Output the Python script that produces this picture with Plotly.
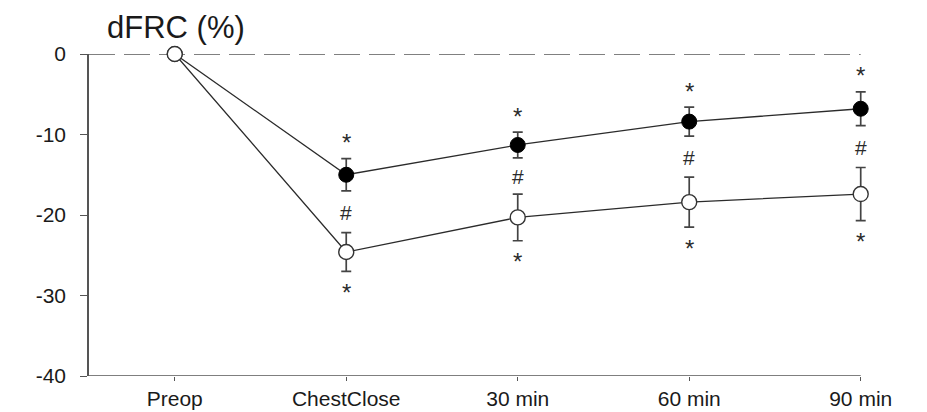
import plotly.graph_objects as go

# Time points and group means with SD-style error bars (dFRC, %)
categories = ["Preop", "ChestClose", "30 min", "60 min", "90 min"]
filled_mean = [0, -15.0, -11.3, -8.4, -6.8]
filled_err = [0, 2.0, 1.6, 1.8, 2.1]
open_mean = [0, -24.6, -20.3, -18.4, -17.4]
open_err = [0, 2.4, 2.9, 3.1, 3.3]
# significance marks shown at each time point after Preop
star_above = ["", "*", "*", "*", "*"]
hash_between = ["", "#", "#", "#", "#"]
star_below = ["", "*", "*", "*", "*"]

y_ticks = [0, -10, -20, -30, -40]

FONT = "Liberation Sans, Arial, sans-serif"
INK = "#2b2b2b"
AXIS = "#555555"

X_LO, X_AXIS_END, X_HI = -0.5, 4.0, 4.06

fig = go.Figure()

fig.add_trace(go.Scatter(
    x=categories, y=filled_mean, mode="lines+markers",
    line=dict(color=INK, width=1.3),
    marker=dict(size=15, color="black", line=dict(color="black", width=1)),
    error_y=dict(type="data", array=filled_err, visible=True,
                 color="#444444", thickness=1.7, width=5),
    cliponaxis=False, showlegend=False,
))
fig.add_trace(go.Scatter(
    x=categories, y=open_mean, mode="lines+markers",
    line=dict(color=INK, width=1.3),
    marker=dict(size=15, color="white", line=dict(color="#333333", width=1.4)),
    error_y=dict(type="data", array=open_err, visible=True,
                 color="#444444", thickness=1.7, width=5),
    cliponaxis=False, showlegend=False,
))

# zero reference line
fig.add_shape(type="line", xref="x", yref="y", x0=X_LO, x1=X_AXIS_END, y0=0, y1=0,
              line=dict(color="#808080", width=1.8, dash="26px,9px"), layer="below")
# x axis baseline, ending at the last time point
fig.add_shape(type="line", xref="x", yref="y", x0=X_LO, x1=X_AXIS_END, y0=-40, y1=-40,
              line=dict(color=AXIS, width=1.6), layer="above")

annotations = []
for i, cat in enumerate(categories):
    top = filled_mean[i] + filled_err[i]
    upper_of_open = open_mean[i] + open_err[i]
    lower_filled = filled_mean[i] - filled_err[i]
    bottom = open_mean[i] - open_err[i]
    if star_above[i]:
        annotations.append(dict(x=cat, y=top, text=star_above[i], showarrow=False,
                                yanchor="middle", yshift=16,
                                font=dict(family=FONT, size=24, color=INK)))
    if hash_between[i]:
        annotations.append(dict(x=cat, y=(lower_filled + upper_of_open) / 2,
                                text=hash_between[i], showarrow=False,
                                yanchor="middle", yshift=-1,
                                font=dict(family=FONT, size=21, color=INK)))
    if star_below[i]:
        annotations.append(dict(x=cat, y=bottom, text=star_below[i], showarrow=False,
                                yanchor="middle", yshift=-21,
                                font=dict(family=FONT, size=24, color=INK)))

annotations.append(dict(xref="paper", yref="paper", x=0.02, y=1.082,
                        xanchor="left", yanchor="middle", showarrow=False,
                        text="dFRC (%)",
                        font=dict(family=FONT, size=31, color="#1a1a1a")))

fig.update_layout(
    width=927, height=412,
    margin=dict(l=89, r=56, t=54, b=36, autoexpand=False),
    paper_bgcolor="white", plot_bgcolor="white",
    font=dict(family=FONT, color="#1a1a1a"),
    annotations=annotations,
)
fig.update_xaxes(
    type="category", categoryorder="array", categoryarray=categories,
    range=[X_LO, X_HI], showgrid=False, zeroline=False, showline=False,
    ticks="outside", ticklen=4, tickwidth=1.4, tickcolor=AXIS,
    ticklabelstandoff=0, automargin=False,
    tickfont=dict(family=FONT, size=21, color="#1a1a1a"),
)
fig.update_yaxes(
    range=[-40, 0], tickvals=y_ticks, ticktext=[str(v) for v in y_ticks],
    showgrid=False, zeroline=False, automargin=False,
    showline=True, linecolor=AXIS, linewidth=1.6,
    ticks="outside", ticklen=7, tickwidth=1.4, tickcolor=AXIS,
    ticklabelstandoff=10,
    tickfont=dict(family=FONT, size=21, color="#1a1a1a"),
)

fig.write_html("out.html")
